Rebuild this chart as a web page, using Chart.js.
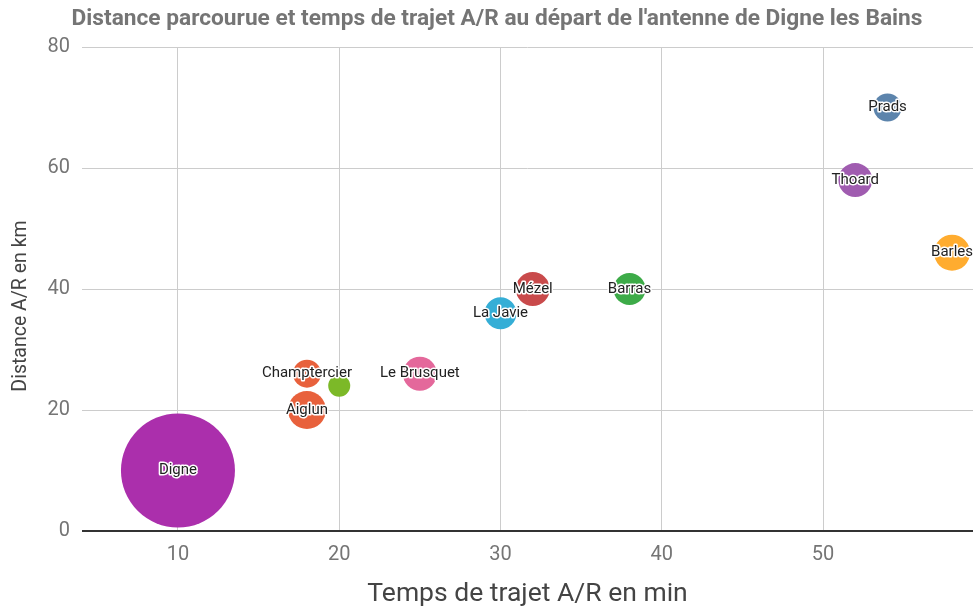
<!DOCTYPE html>
<html>
<head>
<meta charset="utf-8">
<script src="https://cdn.jsdelivr.net/npm/chart.js@4/dist/chart.umd.min.js"></script>
<style>
  body { margin: 0; background: #fff; }
  #zone { width: 973px; height: 614px; }
</style>
</head>
<body>
<div id="zone"><canvas id="graphique" width="973" height="614"></canvas></div>
<script>
// donnees
const villes = ["Digne", "Aiglun", "Champtercier", "", "Le Brusquet", "La Javie", "Mézel", "Barras", "Thoard", "Prads", "Barles"];
const temps = [10, 18, 18, 20, 25, 30, 32, 38, 52, 54, 58];
const distances = [10, 20, 26, 24, 26, 36, 40, 40, 58, 70, 46];
const rayons = [57, 19, 14, 11, 17, 16, 17, 16, 17, 14, 18];
const couleurs = ["#ab2fac", "#e8613c", "#e8613c", "#7cb928", "#e4689b", "#35aed6", "#c94a4b", "#3dab48", "#a05cb0", "#5c84ac", "#ffac2f"];
const ticksX = [10, 20, 30, 40, 50];

const titre = "Distance parcourue et temps de trajet A/R au départ de l'antenne de Digne les Bains";
const titreY = "Distance A/R en km";

let points = []
for (let i = 0; i < villes.length; i++) {
    points.push({ x: temps[i], y: distances[i], r: rayons[i] })
}

// etiquettes au centre des bulles, avec un halo blanc
const etiquettes = {
    id: 'etiquettes',
    afterDatasetsDraw(chart) {
        const ctx = chart.ctx
        const meta = chart.getDatasetMeta(0)
        ctx.save()
        ctx.font = '15px Roboto'
        ctx.textAlign = 'center'
        ctx.textBaseline = 'middle'
        ctx.lineJoin = 'round'
        meta.data.forEach((el, i) => {
            if (!villes[i]) return
            ctx.strokeStyle = '#fff'
            ctx.lineWidth = 3
            ctx.strokeText(villes[i], el.x, el.y)
            ctx.fillStyle = '#222'
            ctx.fillText(villes[i], el.x, el.y)
        })
        ctx.restore()
    }
}

// titre general et titre de l'axe vertical (centres sur le canevas)
const titres = {
    id: 'titres',
    afterDraw(chart) {
        const ctx = chart.ctx
        ctx.save()
        ctx.textAlign = 'center'
        ctx.textBaseline = 'middle'
        ctx.fillStyle = '#757575'
        ctx.font = 'bold 22.7px Roboto'
        ctx.fillText(titre, 497, 19)

        ctx.translate(21, 306)
        ctx.rotate(-Math.PI / 2)
        ctx.fillStyle = '#444'
        ctx.font = '19.5px Roboto'
        ctx.fillText(titreY, 0, 0)
        ctx.restore()
    }
}

var ctx = document.getElementById('graphique').getContext('2d');
var graphique = new Chart(ctx, {
    type: 'bubble',
    data: {
        datasets: [
            {
                label: "Antennes",
                data: points,
                backgroundColor: couleurs,
                borderWidth: 0,
                hoverBorderWidth: 0
            }
        ]
    },
    options: {
        responsive: false,
        animation: false,
        layout: { autoPadding: false, padding: { left: 0, right: 0, top: 47, bottom: 0 } },
        plugins: {
            legend: { display: false },
            tooltip: { enabled: false },
            title: { display: false }
        },
        scales: {
            x: {
                type: 'linear',
                min: 4.05,
                max: 59.3,
                afterBuildTicks: scale => { scale.ticks = ticksX.map(v => ({ value: v })) },
                afterFit: scale => { scale.height = 83 },
                ticks: {
                    color: '#757575',
                    font: { family: 'Roboto', size: 20 },
                    padding: 12
                },
                grid: { color: '#cccccc', drawTicks: false },
                border: { display: false },
                title: {
                    display: true,
                    text: "Temps de trajet A/R en min",
                    color: '#444',
                    font: { family: 'Roboto', size: 26.5 },
                    padding: { top: 8, bottom: 4 }
                }
            },
            y: {
                min: 0,
                max: 80,
                ticks: {
                    stepSize: 20,
                    color: '#757575',
                    font: { family: 'Roboto', size: 20 },
                    padding: 12
                },
                afterFit: scale => { scale.width = 82 },
                grid: {
                    color: c => c.tick && c.tick.value === 0 ? '#333333' : '#cccccc',
                    lineWidth: c => c.tick && c.tick.value === 0 ? 2 : 1,
                    drawTicks: false
                },
                border: { display: false }
            }
        }
    },
    plugins: [etiquettes, titres]
});
</script>
</body>
</html>
